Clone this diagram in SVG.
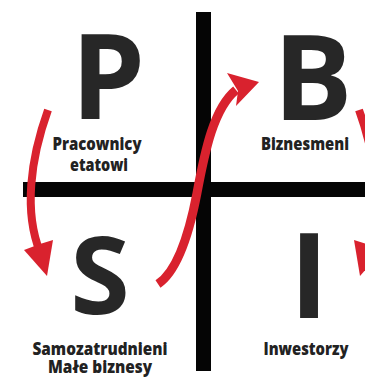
<svg xmlns="http://www.w3.org/2000/svg" width="365" height="378" viewBox="0 0 365 378">
<style>
.big{font-family:"Open Sans","DejaVu Sans",sans-serif;font-weight:700;font-size:118px;fill:#272727;text-anchor:middle}
.lbl{font-family:"Open Sans","DejaVu Sans",sans-serif;font-weight:800;font-size:17px;fill:#222;text-anchor:middle}
.bar{fill:#050505}
.shaft{fill:none;stroke:#d9222e;stroke-width:8;stroke-linecap:butt}
.head{fill:#d9222e}
</style>
<defs>
<g id="downArrow">
<path class="shaft" d="M48,110 C 30,160 24,212 40,252"/>
<polygon class="head" points="24,250 40,244 53,240 47,276"/>
</g>
</defs>
<rect width="365" height="378" fill="#fff"/>
<g id="axes">
<rect class="bar" x="196" y="12" width="15" height="359"/>
<rect class="bar" x="23" y="182" width="342" height="15"/>
</g>
<g id="node-P"><text class="big" x="108" y="119">P</text>
<text class="lbl" x="97" y="150" textLength="89" lengthAdjust="spacingAndGlyphs">Pracownicy</text>
<text class="lbl" x="99" y="171" textLength="58" lengthAdjust="spacingAndGlyphs">etatowi</text></g>
<g id="node-B"><text class="big" x="313" y="120">B</text>
<text class="lbl" x="305" y="150" textLength="88" lengthAdjust="spacingAndGlyphs">Biznesmeni</text></g>
<g id="node-S"><text class="big" x="100" y="314" style="font-size:108px">S</text>
<text class="lbl" x="100" y="355" textLength="135" lengthAdjust="spacingAndGlyphs">Samozatrudnieni</text>
<text class="lbl" x="100" y="373" textLength="104" lengthAdjust="spacingAndGlyphs">Małe biznesy</text></g>
<g id="node-I"><text class="big" x="309" y="318">I</text>
<text class="lbl" x="306" y="355" textLength="85" lengthAdjust="spacingAndGlyphs">Inwestorzy</text></g>
<g id="connectors">
<use href="#downArrow"/>
<use href="#downArrow" transform="translate(407,0) scale(-1,1)"/>
<path class="shaft" style="stroke-width:9" d="M158,284 C 176,272 188,240 197,193 C 205,150 214,108 236,90"/>
<polygon class="head" points="227,73 259,82 236,106 238,91"/>
</g>
</svg>
